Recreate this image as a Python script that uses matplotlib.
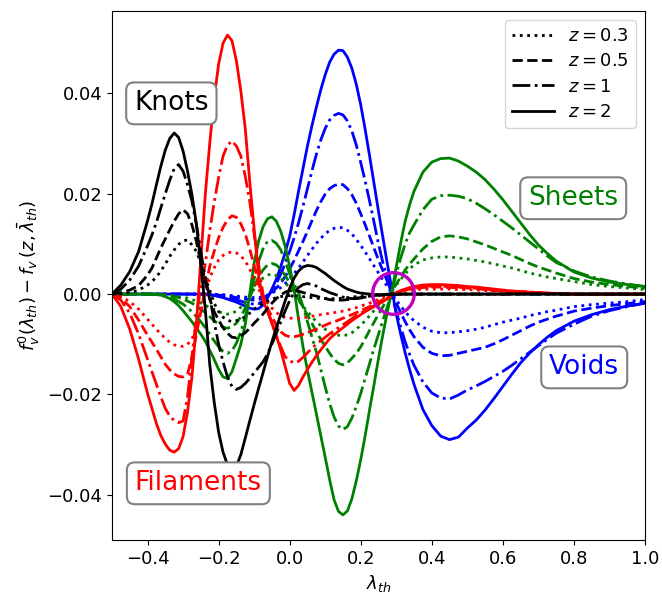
import numpy as np
import matplotlib
matplotlib.use("Agg")
import matplotlib.pyplot as plt

# ----------------- lambda_th sampling (finer where the curves bend) -----------------
LAM = np.concatenate([
    np.linspace(-0.5, -0.425, 4),     # 4 pts
    np.linspace(-0.4, 0.35, 61),      # 61 pts
    np.linspace(0.375, 0.5, 6),       # 6 pts
    np.linspace(0.525, 0.75, 10),     # 10 pts
    np.linspace(0.8, 1.0, 5),         # 5 pts
])

# ----------------- knots -----------------
KNOTS_Z2 = [0.0, 0.0018, 0.0045, 0.0085,
            0.0146, 0.0180, 0.0218, 0.0255, 0.0287, 0.0310, 0.0321, 0.0312, 0.0285, 0.0245,
            0.0198, 0.0140, 0.0060, -0.0030, -0.0140, -0.0215, -0.0275, -0.0315, -0.0340, -0.0350,
            -0.0343, -0.0320, -0.0287, -0.0253, -0.0220, -0.0188, -0.0157, -0.0125, -0.0095, -0.0067,
            -0.0040, -0.0013, 0.0012, 0.0032, 0.0046, 0.0054, 0.0057, 0.0056, 0.0053, 0.0047,
            0.0041, 0.0034, 0.0027, 0.0021, 0.0015, 0.0010, 0.0007, 0.0004, 0.0002, 0.0001,
            0.0, -0.0001, -0.0001, -0.0001, -0.0001, -0.0001, -0.0001, 0.0, 0.0, 0.0, 0.0,
            0.0, 0.0, 0.0, 0.0, 0.0, 0.0,
            0.0, 0.0, 0.0, 0.0, 0.0, 0.0, 0.0, 0.0, 0.0, 0.0,
            0.0, 0.0, 0.0, 0.0, 0.0]
KNOTS_Z1 = [0.0, 0.0010, 0.0028, 0.0056,
            0.0096, 0.0118, 0.0143, 0.0172, 0.0200, 0.0227, 0.0250, 0.0258, 0.0245, 0.0218,
            0.0185, 0.0138, 0.0085, 0.0030, -0.0005, -0.0055, -0.0100, -0.0135, -0.0165, -0.0184,
            -0.0190, -0.0186, -0.0178, -0.0168, -0.0157, -0.0146, -0.0135, -0.0120, -0.0100, -0.0078,
            -0.0055, -0.0033, -0.0013, 0.0003, 0.0013, 0.0019, 0.0021, 0.0019, 0.0016, 0.0011,
            0.0007, 0.0003, 0.0, -0.0003, -0.0006, -0.0008, -0.0009, -0.0009, -0.0008, -0.0006,
            -0.0005, -0.0004, -0.0003, -0.0002, -0.0001, 0.0, 0.0, 0.0, 0.0, 0.0, 0.0,
            0.0, 0.0, 0.0, 0.0, 0.0, 0.0,
            0.0, 0.0, 0.0, 0.0, 0.0, 0.0, 0.0, 0.0, 0.0, 0.0,
            0.0, 0.0, 0.0, 0.0, 0.0]
KNOTS_Z05 = [0.0, 0.0003, 0.0008, 0.0017,
             0.0038, 0.0052, 0.0072, 0.0092, 0.0110, 0.0128, 0.0145, 0.0160, 0.0168, 0.0160,
             0.0138, 0.0105, 0.0063, 0.0025, -0.0010, -0.0035, -0.0052, -0.0067, -0.0078, -0.0086,
             -0.0087, -0.0083, -0.0077, -0.0068, -0.0058, -0.0049, -0.0040, -0.0028, -0.0018, -0.0009,
             -0.0002, 0.0004, 0.0007, 0.0007, 0.0006, 0.0003, 0.0001, -0.0002, -0.0004, -0.0007,
             -0.0009, -0.0011, -0.0012, -0.0012, -0.0012, -0.0011, -0.0010, -0.0008, -0.0007, -0.0005,
             -0.0004, -0.0003, -0.0002, -0.0001, 0.0, 0.0, 0.0, 0.0, 0.0, 0.0, 0.0,
             0.0, 0.0, 0.0, 0.0, 0.0, 0.0,
             0.0, 0.0, 0.0, 0.0, 0.0, 0.0, 0.0, 0.0, 0.0, 0.0,
             0.0, 0.0, 0.0, 0.0, 0.0]
KNOTS_Z03 = [0.0, 0.0001, 0.0003, 0.0008,
             0.0018, 0.0025, 0.0034, 0.0046, 0.0060, 0.0075, 0.0088, 0.0099, 0.0106, 0.0108,
             0.0098, 0.0085, 0.0062, 0.0032, 0.0008, -0.0018, -0.0035, -0.0046, -0.0052, -0.0055,
             -0.0053, -0.0050, -0.0045, -0.0038, -0.0030, -0.0024, -0.0018, -0.0014, -0.0010, -0.0007,
             -0.0005, -0.0004, -0.0003, -0.0003, -0.0004, -0.0005, -0.0006, -0.0007, -0.0008, -0.0009,
             -0.0009, -0.0009, -0.0009, -0.0009, -0.0008, -0.0007, -0.0006, -0.0005, -0.0004, -0.0003,
             -0.0002, -0.0002, -0.0001, -0.0001, 0.0, 0.0, 0.0, 0.0, 0.0, 0.0, 0.0,
             0.0, 0.0, 0.0, 0.0, 0.0, 0.0,
             0.0, 0.0, 0.0, 0.0, 0.0, 0.0, 0.0, 0.0, 0.0, 0.0,
             0.0, 0.0, 0.0, 0.0, 0.0]

# ----------------- filaments -----------------
FIL_Z2 = [0.0, -0.0025, -0.0070, -0.0130,
          -0.0198, -0.0228, -0.0258, -0.0282, -0.0299, -0.0311, -0.0315, -0.0308, -0.0284, -0.0235,
          -0.0165, -0.0060, 0.0070, 0.0198, 0.0300, 0.0390, 0.0458, 0.0500, 0.0516, 0.0505,
          0.0465, 0.0405, 0.0330, 0.0225, 0.0130, 0.0038, -0.0012, -0.0035, -0.0058, -0.0083,
          -0.0112, -0.0145, -0.0178, -0.0192, -0.0182, -0.0165, -0.0150, -0.0136, -0.0123, -0.0111,
          -0.0100, -0.0089, -0.0081, -0.0074, -0.0067, -0.0060, -0.0053, -0.0047, -0.0041, -0.0035,
          -0.0030, -0.0025, -0.0020, -0.0015, -0.0009, -0.0002, 0.0003, 0.0007, 0.0010, 0.0013, 0.0015,
          0.0018, 0.0019, 0.0019, 0.0018, 0.0017, 0.0015,
          0.0014, 0.0012, 0.0010, 0.0008, 0.0006, 0.0005, 0.0004, 0.0003, 0.0002, 0.0001,
          0.0, 0.0, 0.0, 0.0, 0.0]
FIL_Z1 = [0.0, -0.0012, -0.0038, -0.0080,
          -0.0130, -0.0155, -0.0180, -0.0205, -0.0228, -0.0243, -0.0252, -0.0256, -0.0253, -0.0205,
          -0.0125, -0.0045, 0.0015, 0.0060, 0.0125, 0.0183, 0.0232, 0.0275, 0.0297, 0.0305,
          0.0295, 0.0275, 0.0235, 0.0185, 0.0120, 0.0060, 0.0, -0.0030, -0.0058, -0.0083,
          -0.0105, -0.0125, -0.0133, -0.0137, -0.0134, -0.0126, -0.0117, -0.0108, -0.0100, -0.0093,
          -0.0086, -0.0079, -0.0073, -0.0067, -0.0061, -0.0055, -0.0049, -0.0043, -0.0038, -0.0033,
          -0.0028, -0.0023, -0.0018, -0.0012, -0.0008, -0.0002, 0.0002, 0.0006, 0.0009, 0.0011, 0.0013,
          0.0015, 0.0016, 0.0016, 0.0015, 0.0014, 0.0013,
          0.0012, 0.0010, 0.0008, 0.0007, 0.0006, 0.0005, 0.0004, 0.0003, 0.0002, 0.0001,
          0.0, 0.0, 0.0, 0.0, 0.0]
FIL_Z05 = [0.0, -0.0008, -0.0025, -0.0052,
           -0.0082, -0.0096, -0.0110, -0.0125, -0.0140, -0.0151, -0.0159, -0.0164, -0.0165, -0.0160,
           -0.0125, -0.0080, -0.0035, 0.0012, 0.0055, 0.0085, 0.0112, 0.0133, 0.0148, 0.0156,
           0.0153, 0.0140, 0.0120, 0.0090, 0.0057, 0.0022, -0.0008, -0.0028, -0.0045, -0.0062,
           -0.0075, -0.0082, -0.0085, -0.0085, -0.0083, -0.0080, -0.0077, -0.0073, -0.0070, -0.0066,
           -0.0062, -0.0058, -0.0055, -0.0052, -0.0048, -0.0044, -0.0041, -0.0037, -0.0033, -0.0029,
           -0.0025, -0.0021, -0.0016, -0.0011, -0.0006, -0.0001, 0.0003, 0.0006, 0.0008, 0.0010, 0.0011,
           0.0013, 0.0014, 0.0014, 0.0013, 0.0013, 0.0012,
           0.0011, 0.0009, 0.0007, 0.0006, 0.0005, 0.0004, 0.0003, 0.0002, 0.0001, 0.0001,
           0.0, 0.0, 0.0, 0.0, 0.0]
FIL_Z03 = [0.0, -0.0005, -0.0015, -0.0030,
           -0.0050, -0.0060, -0.0070, -0.0080, -0.0088, -0.0096, -0.0101, -0.0104, -0.0104, -0.0100,
           -0.0090, -0.0065, -0.0032, 0.0000, 0.0032, 0.0052, 0.0068, 0.0077, 0.0082, 0.0084,
           0.0082, 0.0076, 0.0066, 0.0050, 0.0030, 0.0010, -0.0005, -0.0017, -0.0028, -0.0037,
           -0.0043, -0.0047, -0.0048, -0.0048, -0.0048, -0.0047, -0.0046, -0.0044, -0.0043, -0.0041,
           -0.0040, -0.0038, -0.0037, -0.0035, -0.0034, -0.0032, -0.0029, -0.0027, -0.0024, -0.0021,
           -0.0018, -0.0014, -0.0011, -0.0007, -0.0004, -0.0001, 0.0002, 0.0004, 0.0006, 0.0007, 0.0008,
           0.0010, 0.0010, 0.0010, 0.0010, 0.0009, 0.0009,
           0.0008, 0.0007, 0.0006, 0.0005, 0.0004, 0.0003, 0.0003, 0.0002, 0.0001, 0.0001,
           0.0, 0.0, 0.0, 0.0, 0.0]

# ----------------- sheets -----------------
SHEETS_Z2 = [0.0, 0.0, 0.0, 0.0,
             0.0, 0.0, -0.0001, -0.0002, -0.0005, -0.0009, -0.0015, -0.0023, -0.0033, -0.0044,
             -0.0055, -0.0068, -0.0080, -0.0094, -0.0112, -0.0130, -0.0150, -0.0165, -0.0168, -0.0155,
             -0.0128, -0.0100, -0.0060, 0.0000, 0.0062, 0.0105, 0.0134, 0.0150, 0.0154, 0.0145,
             0.0125, 0.0095, 0.0055, 0.0010, -0.0050, -0.0105, -0.0152, -0.0195, -0.0238, -0.0282,
             -0.0325, -0.0370, -0.0410, -0.0433, -0.0440, -0.0432, -0.0408, -0.0372, -0.0330, -0.0282,
             -0.0230, -0.0180, -0.0128, -0.0080, -0.0035, 0.0005, 0.0054, 0.0102, 0.0145, 0.0178, 0.0205,
             0.0243, 0.0263, 0.0270, 0.0271, 0.0265, 0.0255,
             0.0243, 0.0228, 0.0209, 0.0188, 0.0165, 0.0142, 0.0119, 0.0098, 0.0081, 0.0066,
             0.0044, 0.0032, 0.0024, 0.0019, 0.0015]
SHEETS_Z1 = [0.0, 0.0, 0.0, 0.0,
             0.0, 0.0, -0.0001, -0.0002, -0.0004, -0.0007, -0.0010, -0.0015, -0.0020, -0.0027,
             -0.0035, -0.0045, -0.0055, -0.0067, -0.0080, -0.0093, -0.0105, -0.0114, -0.0118, -0.0113,
             -0.0098, -0.0075, -0.0045, -0.0008, 0.0030, 0.0065, 0.0090, 0.0105, 0.0107, 0.0101,
             0.0088, 0.0066, 0.0040, 0.0020, 0.0003, -0.0025, -0.0055, -0.0085, -0.0115, -0.0150,
             -0.0185, -0.0218, -0.0245, -0.0263, -0.0270, -0.0264, -0.0247, -0.0224, -0.0198, -0.0168,
             -0.0138, -0.0108, -0.0080, -0.0052, -0.0025, 0.0005, 0.0040, 0.0072, 0.0100, 0.0122, 0.0138,
             0.0168, 0.0189, 0.0196, 0.0197, 0.0195, 0.0190,
             0.0181, 0.0170, 0.0158, 0.0145, 0.0132, 0.0118, 0.0104, 0.0090, 0.0076, 0.0063,
             0.0046, 0.0034, 0.0026, 0.0020, 0.0015]
SHEETS_Z05 = [0.0, 0.0, 0.0, 0.0,
              0.0, 0.0, 0.0, -0.0001, -0.0002, -0.0003, -0.0005, -0.0007, -0.0010, -0.0014,
              -0.0018, -0.0024, -0.0030, -0.0037, -0.0045, -0.0053, -0.0060, -0.0066, -0.0068, -0.0065,
              -0.0058, -0.0045, -0.0028, -0.0007, 0.0015, 0.0033, 0.0048, 0.0058, 0.0061, 0.0058,
              0.0050, 0.0037, 0.0022, 0.0006, -0.0010, -0.0026, -0.0042, -0.0058, -0.0075, -0.0090,
              -0.0104, -0.0118, -0.0130, -0.0138, -0.0141, -0.0137, -0.0128, -0.0118, -0.0105, -0.0089,
              -0.0072, -0.0056, -0.0040, -0.0025, -0.0010, 0.0005, 0.0020, 0.0034, 0.0048, 0.0060, 0.0070,
              0.0090, 0.0105, 0.0114, 0.0116, 0.0114, 0.0110,
              0.0104, 0.0098, 0.0091, 0.0084, 0.0077, 0.0069, 0.0061, 0.0054, 0.0048, 0.0042,
              0.0031, 0.0024, 0.0019, 0.0015, 0.0012]
SHEETS_Z03 = [0.0, 0.0, 0.0, 0.0,
              0.0, 0.0, 0.0, 0.0, -0.0001, -0.0002, -0.0003, -0.0004, -0.0006, -0.0008,
              -0.0011, -0.0014, -0.0018, -0.0022, -0.0027, -0.0031, -0.0035, -0.0038, -0.0040, -0.0038,
              -0.0034, -0.0026, -0.0016, -0.0003, 0.0010, 0.0022, 0.0032, 0.0038, 0.0040, 0.0037,
              0.0032, 0.0023, 0.0012, 0.0000, -0.0012, -0.0024, -0.0035, -0.0045, -0.0055, -0.0063,
              -0.0070, -0.0076, -0.0080, -0.0082, -0.0083, -0.0081, -0.0077, -0.0070, -0.0062, -0.0053,
              -0.0043, -0.0033, -0.0023, -0.0014, -0.0005, 0.0006, 0.0018, 0.0029, 0.0040, 0.0050, 0.0058,
              0.0068, 0.0072, 0.0074, 0.0074, 0.0072, 0.0070,
              0.0067, 0.0064, 0.0060, 0.0056, 0.0052, 0.0047, 0.0042, 0.0038, 0.0034, 0.0031,
              0.0025, 0.0019, 0.0015, 0.0012, 0.0009]

# ----------------- voids -----------------
VOIDS_Z2 = [0.0, 0.0, 0.0, 0.0,
            0.0, 0.0, 0.0, 0.0, 0.0, 0.0, 0.0, 0.0, 0.0, 0.0,
            0.0, 0.0, 0.0, -0.0001, -0.0002, -0.0003, -0.0005, -0.0007, -0.0010, -0.0013,
            -0.0016, -0.0020, -0.0024, -0.0028, -0.0030, -0.0029, -0.0022, -0.0008, 0.0010, 0.0030,
            0.0055, 0.0083, 0.0115, 0.0158, 0.0205, 0.0250, 0.0295, 0.0335, 0.0372, 0.0407,
            0.0437, 0.0462, 0.0478, 0.0486, 0.0485, 0.0472, 0.0450, 0.0418, 0.0377, 0.0328,
            0.0275, 0.0220, 0.0165, 0.0112, 0.0060, 0.0010, -0.0040, -0.0080, -0.0117, -0.0150, -0.0180,
            -0.0230, -0.0262, -0.0283, -0.0290, -0.0285, -0.0267,
            -0.0251, -0.0231, -0.0208, -0.0184, -0.0160, -0.0137, -0.0118, -0.0101, -0.0086, -0.0073,
            -0.0054, -0.0041, -0.0031, -0.0024, -0.0018]
VOIDS_Z1 = [0.0, 0.0, 0.0, 0.0,
            0.0, 0.0, 0.0, 0.0, 0.0, 0.0, 0.0, 0.0, 0.0, 0.0,
            0.0, 0.0, 0.0, 0.0, -0.0001, -0.0002, -0.0003, -0.0005, -0.0007, -0.0009,
            -0.0012, -0.0014, -0.0017, -0.0019, -0.0020, -0.0019, -0.0014, -0.0005, 0.0006, 0.0021,
            0.0040, 0.0061, 0.0085, 0.0112, 0.0142, 0.0175, 0.0210, 0.0245, 0.0278, 0.0307,
            0.0330, 0.0347, 0.0356, 0.0360, 0.0357, 0.0345, 0.0325, 0.0297, 0.0262, 0.0225,
            0.0185, 0.0143, 0.0100, 0.0062, 0.0030, -0.0003, -0.0035, -0.0066, -0.0095, -0.0120, -0.0142,
            -0.0175, -0.0197, -0.0207, -0.0209, -0.0201, -0.0191,
            -0.0183, -0.0174, -0.0164, -0.0154, -0.0142, -0.0129, -0.0116, -0.0103, -0.0090, -0.0078,
            -0.0060, -0.0044, -0.0033, -0.0025, -0.0018]
VOIDS_Z05 = [0.0, 0.0, 0.0, 0.0,
             0.0, 0.0, 0.0, 0.0, 0.0, 0.0, 0.0, 0.0, 0.0, 0.0,
             0.0, 0.0, 0.0, 0.0, 0.0, -0.0001, -0.0002, -0.0003, -0.0004, -0.0005,
             -0.0007, -0.0008, -0.0010, -0.0011, -0.0012, -0.0011, -0.0008, -0.0003, 0.0004, 0.0012,
             0.0022, 0.0035, 0.0050, 0.0067, 0.0086, 0.0105, 0.0125, 0.0146, 0.0166, 0.0184,
             0.0199, 0.0210, 0.0216, 0.0219, 0.0218, 0.0210, 0.0198, 0.0181, 0.0160, 0.0138,
             0.0115, 0.0091, 0.0068, 0.0046, 0.0025, 0.0003, -0.0018, -0.0037, -0.0055, -0.0071, -0.0085,
             -0.0106, -0.0118, -0.0123, -0.0122, -0.0118, -0.0114,
             -0.0110, -0.0106, -0.0099, -0.0091, -0.0082, -0.0073, -0.0064, -0.0056, -0.0050, -0.0044,
             -0.0034, -0.0028, -0.0023, -0.0019, -0.0015]
VOIDS_Z03 = [0.0, 0.0, 0.0, 0.0,
             0.0, 0.0, 0.0, 0.0, 0.0, 0.0, 0.0, 0.0, 0.0, 0.0,
             0.0, 0.0, 0.0, 0.0, 0.0, 0.0, -0.0001, -0.0001, -0.0002, -0.0003,
             -0.0004, -0.0005, -0.0006, -0.0007, -0.0007, -0.0007, -0.0005, -0.0002, 0.0002, 0.0007,
             0.0013, 0.0021, 0.0030, 0.0041, 0.0052, 0.0064, 0.0077, 0.0089, 0.0101, 0.0111,
             0.0120, 0.0127, 0.0131, 0.0133, 0.0132, 0.0127, 0.0120, 0.0109, 0.0097, 0.0084,
             0.0070, 0.0056, 0.0042, 0.0028, 0.0015, 0.0001, -0.0012, -0.0024, -0.0035, -0.0045, -0.0053,
             -0.0066, -0.0074, -0.0077, -0.0077, -0.0075, -0.0073,
             -0.0070, -0.0066, -0.0061, -0.0056, -0.0052, -0.0048, -0.0043, -0.0039, -0.0035, -0.0032,
             -0.0025, -0.0021, -0.0018, -0.0015, -0.0011]

Z_LABELS = ["0.3", "0.5", "1", "2"]
LINESTYLES = [":", "--", "-.", "-"]

FAMILIES = [
    ("b", [VOIDS_Z03, VOIDS_Z05, VOIDS_Z1, VOIDS_Z2]),
    ("g", [SHEETS_Z03, SHEETS_Z05, SHEETS_Z1, SHEETS_Z2]),
    ("r", [FIL_Z03, FIL_Z05, FIL_Z1, FIL_Z2]),
    ("k", [KNOTS_Z03, KNOTS_Z05, KNOTS_Z1, KNOTS_Z2]),
]

# box labels: (text, colour, x, y)
TAGS = [("Knots", "k", -0.333, 0.0380),
        ("Filaments", "r", -0.257, -0.0377),
        ("Sheets", "g", 0.798, 0.0191),
        ("Voids", "b", 0.829, -0.0146)]

# ----------------- plotting -----------------
fig = plt.figure(figsize=(6.62, 5.95), dpi=100)
ax = fig.add_axes([0.1692, 0.0924, 0.8051, 0.8891])

for color, series in FAMILIES:
    for ls, vals in zip(LINESTYLES, series):
        ax.plot(LAM, vals, color=color, ls=ls, lw=2)

# legend proxies (black)
for ls, zl in zip(LINESTYLES, Z_LABELS):
    ax.plot([], [], color="k", ls=ls, lw=2, label=f"$z={zl}$")
ax.legend(loc="upper right", fontsize=13, handlelength=2.3, labelspacing=0.4)

# crossing point marker
ax.plot([0.29], [0.0003], "o", ms=30, mfc="none", mec="m", mew=2.4)

for txt, col, tx, ty in TAGS:
    ax.text(tx, ty, txt, color=col, fontsize=19, ha="center", va="center",
            bbox=dict(boxstyle="round", fc="white", ec="gray", lw=1.5))

ax.set_xlim(-0.5, 1.0)
ax.set_ylim(-0.0490, 0.0564)
ax.set_xlabel(r"$\lambda_{th}$", fontsize=13)
ax.set_ylabel(r"$f_v^0(\lambda_{th}) - f_v\,(z,\bar{\lambda}_{th})$", fontsize=13)
ax.tick_params(labelsize=13)

fig.savefig("out.png", dpi=100)
